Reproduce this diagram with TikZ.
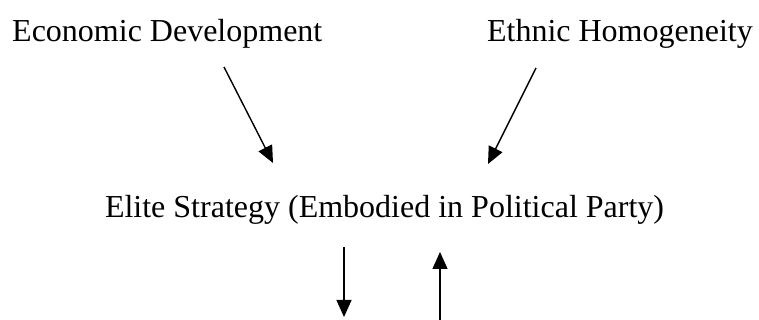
\documentclass[tikz,border=0pt]{standalone}
\usepackage{fontspec}
\setmainfont{Liberation Serif}
\usetikzlibrary{arrows.meta, positioning}

\begin{document}
\begin{tikzpicture}[x=1pt, y=1pt, font=\fontsize{32}{38}\selectfont,
        flow/.style={-{Triangle[length=17pt, width=15pt]}, line width=1.4pt}]
            \useasboundingbox (0,0) rectangle (759,320);
            
            \node[anchor=base west, inner sep=0pt] (econ) at (12,278) {Economic Development};
            \node[anchor=base east, inner sep=0pt] (ethnic) at (753,278) {Ethnic Homogeneity};
            \node[anchor=base, inner sep=0pt] (elite) at (384.5,102) {Elite Strategy (Embodied in Political Party)};
            
            % arrow ends
            \foreach \n/\x/\y in {econ-s/224/253, econ-e/273/157, eth-s/536/252, eth-e/488/156,
                                  down-s/344/73, down-e/344/3, up-s/440/0, up-e/440/68} {
                \coordinate (\n) at (\x,\y);
            }
            
            \draw[flow] (econ-s) -- (econ-e);
            \draw[flow] (eth-s) -- (eth-e);
            \draw[flow] (down-s) -- (down-e);
            \draw[flow] (up-s) -- (up-e);
            
        \end{tikzpicture}
\end{document}
